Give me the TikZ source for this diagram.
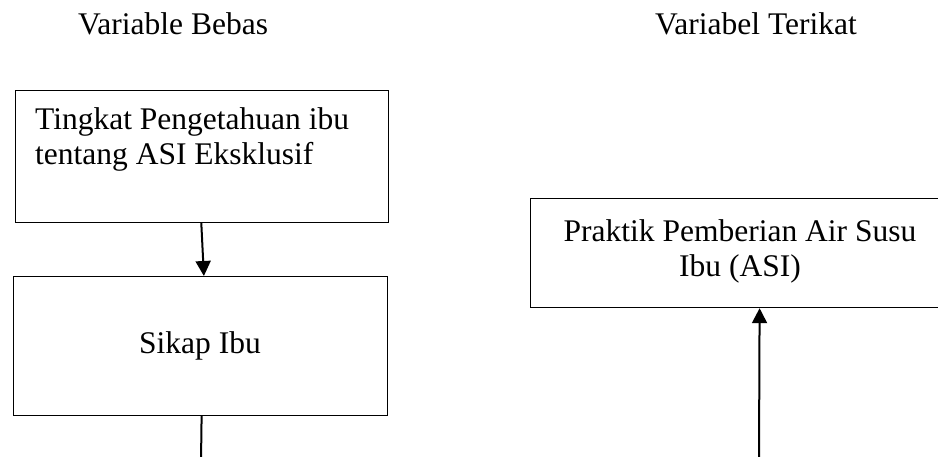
\documentclass[tikz,border=0pt]{standalone}
\usepackage{fontspec}
\setmainfont{Liberation Serif}
\usetikzlibrary{arrows.meta}
\begin{document}
\begin{tikzpicture}[x=1pt,y=-1pt,
  box/.style={draw, line width=1.2pt, inner sep=0pt, anchor=north west},
  conn/.style={line width=2pt, -{Triangle[width=15pt,length=15pt]}},
  plain/.style={line width=2pt},
  lbl/.style={font=\fontsize{31.5}{35}\selectfont, inner sep=0pt}]
\useasboundingbox (0,0) rectangle (938,457);
\begin{scope}
\clip (0,0) rectangle (938,457);
% titles
\node[lbl, anchor=base west] (h1) at (78,35) {Variable Bebas};
\node[lbl, anchor=base west] (h2) at (655,35) {Variabel Terikat};
% boxes
\node[box, minimum width=373pt, minimum height=132pt] (b1) at (15,90) {};
\node[box, minimum width=374pt, minimum height=139pt] (b2) at (13,276) {};
\node[box, minimum width=420pt, minimum height=109pt] (b3) at (530,198) {};
% texts
\node[lbl, anchor=base west, align=left] (t1) at (35,165) {Tingkat Pengetahuan ibu\\tentang ASI Eksklusif};
\node[lbl, anchor=base] (t2) at (200,353) {Sikap Ibu};
\node[lbl, anchor=base, align=center] (t3) at (740,277) {Praktik Pemberian Air Susu\\Ibu (ASI)};
% connectors
\coordinate (e1) at (201,462);
\coordinate (e2) at (759,462);
\draw[conn] ([xshift=-0.8pt]b1.south) -- ([xshift=3.3pt]b2.north);
\draw[plain] ([xshift=1pt]b2.south) -- (e1);
\draw[conn] (e2) -- ([xshift=19pt]b3.south);
\end{scope}
\end{tikzpicture}
\end{document}
